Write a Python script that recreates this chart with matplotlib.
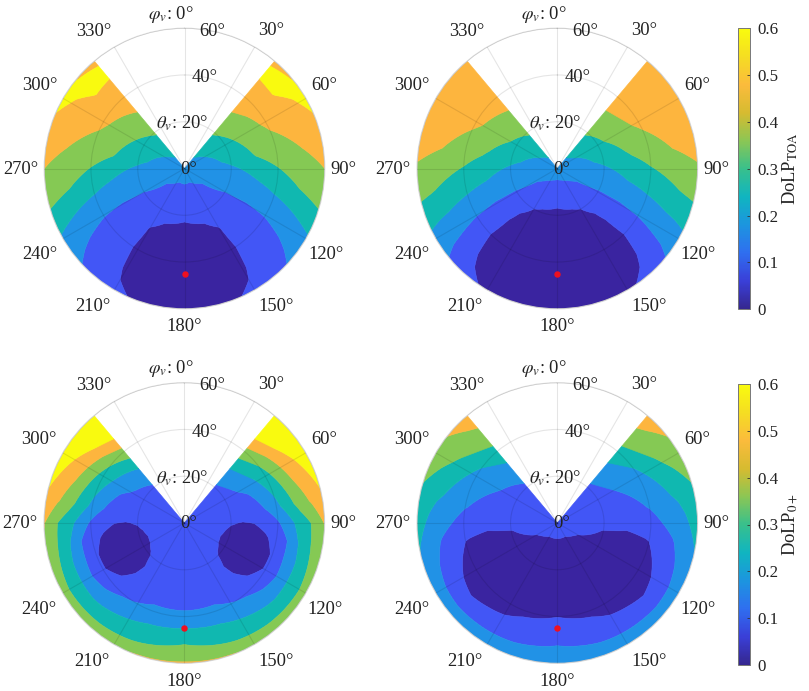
import numpy as np
import matplotlib
matplotlib.use('Agg')
import matplotlib.pyplot as plt
from matplotlib.colors import ListedColormap, BoundaryNorm, LinearSegmentedColormap, Normalize
from matplotlib.cm import ScalarMappable

plt.rcParams['font.family'] = ['Liberation Serif', 'DejaVu Serif']
plt.rcParams['mathtext.fontset'] = 'stix'

W, H = 809, 691

# viewing zenith rows and azimuth columns (the maps are mirrored about 0-180)
# each row of a table is one azimuth column
theta_v = [0, 10, 20, 30, 40, 50, 55, 60]

toa_left_phi = [40, 50, 60, 80, 100, 120, 140, 150, 160, 180]
toa_left = [
    [.25, .33, .41, .49, .555, .60, .625, .565],
    [.25, .315, .39, .465, .54, .605, .63, .595],
    [.25, .30, .37, .44, .52, .57, .59, .63],
    [.25, .27, .32, .395, .45, .495, .52, .54],
    [.25, .235, .25, .285, .34, .40, .43, .46],
    [.25, .21, .20, .195, .205, .235, .26, .285],
    [.25, .19, .145, .125, .12, .12, .13, .155],
    [.25, .18, .125, .097, .09, .095, .10, .115],
    [.25, .17, .115, .085, .06, .07, .075, .09],
    [.25, .175, .11, .075, .05, .05, .06, .08],
]

toa_right_phi = [40, 60, 80, 100, 120, 130, 140, 150, 160, 180]
toa_right = [
    [.25, .335, .41, .49, .53, .56, .57, .575],
    [.25, .305, .375, .455, .52, .55, .56, .565],
    [.25, .265, .325, .385, .445, .50, .52, .54],
    [.25, .225, .24, .295, .34, .385, .41, .43],
    [.25, .205, .195, .19, .205, .24, .25, .27],
    [.25, .19, .15, .13, .125, .15, .17, .195],
    [.25, .175, .115, .085, .07, .08, .10, .12],
    [.25, .165, .10, .065, .05, .05, .07, .085],
    [.25, .155, .09, .05, .03, .03, .04, .05],
    [.25, .145, .08, .045, .025, .025, .03, .04],
]

sub_left_theta = [0, 10, 15, 20, 25, 30, 35, 40, 45, 50, 55, 60]
sub_left_phi = [40, 60, 80, 90, 100, 110, 120, 130, 140, 160, 180]
sub_left = [
    [.15, .17, .18, .185, .24, .295, .38, .465, .56, .66, .72, .75],
    [.15, .165, .16, .16, .19, .225, .29, .36, .45, .545, .61, .69],
    [.15, .145, .135, .125, .125, .14, .20, .27, .355, .44, .51, .575],
    [.15, .14, .122, .104, .097, .101, .117, .185, .265, .345, .41, .505],
    [.15, .135, .112, .091, .0805, .081, .093, .116, .205, .31, .40, .48],
    [.15, .13, .106, .084, .072, .072, .082, .104, .20, .29, .385, .46],
    [.15, .13, .108, .085, .074, .073, .084, .104, .19, .29, .37, .45],
    [.15, .135, .115, .094, .084, .086, .099, .123, .22, .29, .375, .455],
    [.15, .14, .125, .109, .104, .11, .135, .185, .25, .31, .38, .465],
    [.15, .15, .15, .15, .155, .16, .18, .225, .29, .35, .405, .505],
    [.15, .16, .163, .165, .16, .16, .18, .22, .30, .38, .43, .51],
]

sub_right_phi = [40, 60, 80, 90, 100, 110, 120, 130, 140, 150, 160, 180]
sub_right = [
    [.13, .155, .185, .26, .37, .47, .52, .56],
    [.13, .14, .16, .21, .27, .385, .425, .46],
    [.13, .135, .14, .16, .205, .28, .32, .37],
    [.13, .125, .118, .125, .165, .235, .285, .34],
    [.13, .12, .098, .085, .103, .19, .25, .305],
    [.13, .112, .085, .065, .08, .145, .225, .28],
    [.13, .10, .07, .05, .065, .12, .20, .25],
    [.13, .095, .06, .04, .055, .11, .195, .255],
    [.13, .09, .05, .03, .05, .125, .20, .26],
    [.13, .085, .05, .035, .065, .13, .205, .265],
    [.13, .085, .05, .04, .085, .14, .21, .265],
    [.13, .085, .055, .05, .098, .165, .235, .28],
]

# sun position marker
sun_theta = 45
sun_phi = 180

levels = [0, .1, .2, .3, .4, .5, .6, 1]
band_colors = ['#3a24a0', '#4256f6', '#2192e6', '#10b8b0', '#85c954', '#fdb53e', '#f9fa0f']
bar_colors = ['#35278f', '#3a3fd8', '#2f6ff0', '#1c95df', '#10b5c0', '#38c08c', '#8cc654',
              '#d6bb30', '#fbbb3c', '#f5dd22', '#f9fb0e']
bar_ticks = [0, .1, .2, .3, .4, .5, .6]
bar_ticklabels = ['0', '0.1', '0.2', '0.3', '0.4', '0.5', '0.6']

azimuth_ticks = [30, 60, 90, 120, 150, 180, 210, 240, 270, 300, 330]
# label offsets from the plot centre, pixels
azimuth_dx = [87, 140, 159, 141, 92, 0, -92, -145, -164, -145, -91]
azimuth_dy = [138, 83, -1, -86, -138, -158, -138, -86, -1, 83, 137]

cmap = ListedColormap(band_colors)
norm = BoundaryNorm(levels, cmap.N)


def add_panel(cx, cy, table, phi, theta):
    R = 140.3
    ax = plt.gcf().add_axes([(cx - R) / W, 1 - (cy + R) / H, 2 * R / W, 2 * R / H], projection='polar')
    ax.set_theta_zero_location('N')
    ax.set_theta_direction(-1)

    half = np.array(table)
    phi_full = np.array(phi + [360 - p for p in phi[-2::-1]])
    vals = np.vstack([half, half[-2::-1]])
    cs = ax.contourf(np.deg2rad(phi_full), np.array(theta), vals.T, levels=levels, cmap=cmap, norm=norm,
                     antialiased=True)
    cs.set_edgecolor('face')
    cs.set_linewidth(0.4)
    # contour segments are straight on screen otherwise, the rim would be a polygon
    for p in cs.get_paths():
        p._interpolation_steps = 30

    ax.plot(np.deg2rad(sun_phi), sun_theta, 'o', color='#f01020', ms=3.6, zorder=5)

    ax.set_ylim(0, 60)
    ax.set_axisbelow(False)
    ax.set_rgrids([20, 40, 60], labels=[])
    ax.set_thetagrids(np.arange(0, 360, 30), labels=[])
    ax.grid(True, color='black', alpha=0.1, lw=0.8)
    ax.tick_params(length=0)
    ax.spines['polar'].set_color('#dcdcdc')
    ax.spines['polar'].set_linewidth(0.8)

    fs = 13.3
    txt = dict(ha='center', va='center', fontsize=fs, color='#222222', annotation_clip=False,
               textcoords='offset pixels')
    for a, dx, dy in zip(azimuth_ticks, azimuth_dx, azimuth_dy):
        ax.annotate(f'{a}°', xy=(0, 0), xytext=(dx, dy), **txt)
    ax.annotate('60°', xy=(0, 60), xytext=(28, -3), **txt)
    ax.annotate('40°', xy=(0, 40), xytext=(20, -3), **txt)
    ax.annotate('0°', xy=(0, 0), xytext=(4, -1), **txt)
    txt['ha'] = 'right'
    ax.annotate(r'$\varphi_v$: 0°', xy=(0, 60), xytext=(9, 14), **txt)
    ax.annotate(r'$\theta_v$: 20°', xy=(0, 20), xytext=(24, -2), **txt)
    return ax


def add_bar(y0, y1, label):
    x0, x1 = 738.3, 750
    cax = plt.gcf().add_axes([x0 / W, 1 - y1 / H, (x1 - x0) / W, (y1 - y0) / H])
    smooth = LinearSegmentedColormap.from_list('parula_ish', bar_colors)
    cb = plt.gcf().colorbar(ScalarMappable(Normalize(0, .6), smooth), cax=cax)
    cb.set_ticks(bar_ticks, labels=bar_ticklabels)
    cb.ax.tick_params(direction='in', length=2.5, width=0.6, labelsize=12.2, pad=5, color='#333333',
                      labelcolor='#222222')
    cb.outline.set_edgecolor('#777777')
    cb.outline.set_linewidth(0.7)
    plt.gcf().text(790 / W, 1 - (y0 + y1) / 2 / H, label, rotation=90, ha='center', va='center',
                   fontsize=13.3, color='#222222')


fig = plt.figure(figsize=(W / 100, H / 100), dpi=100)

add_panel(184.5, 168.5, toa_left, toa_left_phi, theta_v)
add_panel(557.3, 168.5, toa_right, toa_right_phi, theta_v)
add_panel(184.3, 523, sub_left, sub_left_phi, sub_left_theta)
add_panel(557.3, 523, sub_right, sub_right_phi, theta_v)

add_bar(28.3, 309.3, r'DoLP$_{\mathrm{TOA}}$')
add_bar(384, 665, r'DoLP$_{\mathrm{0+}}$')

fig.savefig('out.png', dpi=100)
